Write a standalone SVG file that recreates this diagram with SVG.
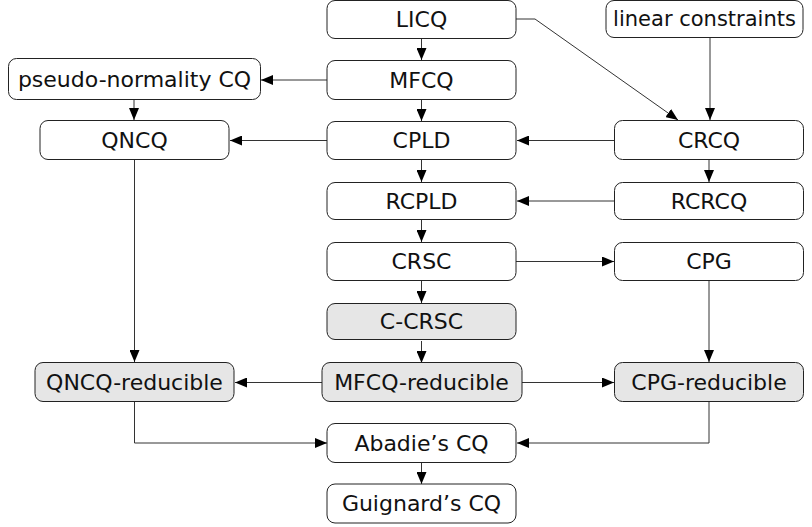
<svg xmlns="http://www.w3.org/2000/svg" width="812" height="527" viewBox="0 0 812 527">
<style>
.n rect{fill:#fff;stroke:#222;stroke-width:1}
.g rect{fill:#e6e6e6}
.n text{font-family:"DejaVu Sans",sans-serif;font-size:22px;fill:#111;text-anchor:middle;dominant-baseline:central}
.e path{fill:none;stroke:#333;stroke-width:1}
</style>
<defs>
<marker id="a" viewBox="0 0 12 10" refX="12" refY="5" markerWidth="12" markerHeight="10" markerUnits="userSpaceOnUse" orient="auto">
<path d="M0,0L12,5L0,10Z" fill="#000"/>
</marker>
</defs>
<g class="e" marker-end="url(#a)">
<path d="M421.5,39V60"/>
<path d="M421.5,99V121"/>
<path d="M421.5,160V182"/>
<path d="M421.5,220V242"/>
<path d="M421.5,281V303"/>
<path d="M421.5,341V363"/>
<path d="M421.5,463V484"/>
<path d="M327,80H261"/>
<path d="M134,100V120"/>
<path d="M327,140.5H230"/>
<path d="M614,140.5H517"/>
<path d="M709,160V182"/>
<path d="M614,201H517"/>
<path d="M516,261.5H614"/>
<path d="M516,19H535L678,120"/>
<path d="M710,37V120"/>
<path d="M134.5,160V362"/>
<path d="M709,281V362"/>
<path d="M322,382.5H235"/>
<path d="M522,382.5H614"/>
<path d="M134.5,402V443H327"/>
<path d="M709,402V443H517"/>
</g>
<g id="LICQ" class="n"><rect x="327" y="0.5" width="189" height="38" rx="8"/><text x="421.5" y="19.5">LICQ</text></g>
<g id="linear" class="n"><rect x="606" y="0.5" width="197" height="37" rx="8"/><text x="704.5" y="19" style="font-size:21px">linear constraints</text></g>
<g id="MFCQ" class="n"><rect x="327" y="60.5" width="189" height="39" rx="8"/><text x="421.5" y="80">MFCQ</text></g>
<g id="pseudo" class="n"><rect x="8.5" y="58.5" width="252" height="41" rx="8"/><text x="134.5" y="79">pseudo-normality CQ</text></g>
<g id="QNCQ" class="n"><rect x="40" y="120.5" width="189" height="39" rx="8"/><text x="134.5" y="140">QNCQ</text></g>
<g id="CPLD" class="n"><rect x="327" y="121.5" width="189" height="38" rx="8"/><text x="421.5" y="140.5">CPLD</text></g>
<g id="CRCQ" class="n"><rect x="614.5" y="120.5" width="189" height="39" rx="8"/><text x="709" y="140">CRCQ</text></g>
<g id="RCPLD" class="n"><rect x="327" y="182.5" width="189" height="37" rx="8"/><text x="421.5" y="201">RCPLD</text></g>
<g id="RCRCQ" class="n"><rect x="614.5" y="182.5" width="189" height="37" rx="8"/><text x="709" y="201">RCRCQ</text></g>
<g id="CRSC" class="n"><rect x="327" y="242.5" width="189" height="38" rx="8"/><text x="421.5" y="261.5">CRSC</text></g>
<g id="CPG" class="n"><rect x="614.5" y="242.5" width="189" height="38" rx="8"/><text x="709" y="261.5">CPG</text></g>
<g id="CCRSC" class="n g"><rect x="327" y="303.5" width="189" height="36" rx="8"/><text x="421.5" y="321.5">C-CRSC</text></g>
<g id="QNCQred" class="n g"><rect x="35" y="362.5" width="199" height="39" rx="8"/><text x="134.5" y="382">QNCQ-reducible</text></g>
<g id="MFCQred" class="n g"><rect x="322" y="362.5" width="200" height="39" rx="8"/><text x="421.5" y="382">MFCQ-reducible</text></g>
<g id="CPGred" class="n g"><rect x="614.5" y="362.5" width="189" height="39" rx="8"/><text x="709" y="382">CPG-reducible</text></g>
<g id="Abadie" class="n"><rect x="327" y="423.5" width="189" height="39" rx="8"/><text x="421.5" y="443">Abadie’s CQ</text></g>
<g id="Guignard" class="n"><rect x="327" y="484" width="189" height="39" rx="8"/><text x="421.5" y="503.5">Guignard’s CQ</text></g>
</svg>
